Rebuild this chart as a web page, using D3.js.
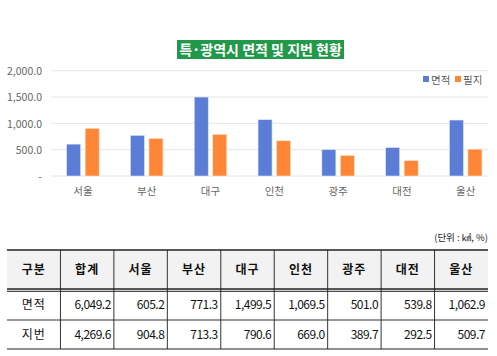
<!DOCTYPE html>
<meta charset="utf-8">
<style>
body { margin: 0; background: #fff; }
text { font-family: "Noto Sans CJK KR", "Noto Sans", sans-serif; }
.tick text { fill: #666; font-size: 10.5px; }
</style>
<svg width="497" height="356"></svg>
<script src="https://d3js.org/d3.v7.min.js"></script>
<script>
// chart data
var categories = ["서울", "부산", "대구", "인천", "광주", "대전", "울산"];
var areaVals = [605.2, 771.3, 1499.5, 1069.5, 501.0, 539.8, 1062.9];
var parcelVals = [904.8, 713.3, 790.6, 669.0, 389.7, 292.5, 509.7];
var seriesNames = ["면적", "필지"];
var yTicks = [0, 500, 1000, 1500, 2000];

// table data
var headers = ["구분", "합계"].concat(categories);
var rowNames = ["면적", "지번"];
var totals = [6049.2, 4269.6];

var blue = "#5b7dd6", orange = "#fe8636";

var svg = d3.select("svg");

// title box
var tg = svg.append("g");
tg.append("rect").attr("x", 177).attr("y", 40).attr("width", 167).attr("height", 19)
  .attr("fill", "#22984a");
tg.append("text").attr("x", 260.5).attr("y", 55).attr("text-anchor", "middle")
  .attr("fill", "#fff").style("font-size", "14px").style("font-weight", "bold")
  .text("특·광역시 면적 및 지번 현황");

var x = d3.scaleBand().domain(categories).range([51, 497.6]);
var y = d3.scaleLinear().domain([0, 2000]).range([176, 70.7]);

// gridlines
svg.append("g").selectAll("line").data(yTicks).join("line")
  .attr("x1", 51).attr("x2", 488)
  .attr("y1", d => y(d)).attr("y2", d => y(d))
  .attr("stroke", "#e6e6e6").attr("stroke-width", 1);

// y axis
var yAxis = svg.append("g").attr("transform", "translate(42,0)")
  .call(d3.axisLeft(y).tickValues(yTicks).tickSize(0).tickPadding(0)
    .tickFormat(d => d === 0 ? "-" : d3.format(",.1f")(d)));
yAxis.select(".domain").remove();
yAxis.selectAll("text").attr("dy", "0.35em");

// x axis labels
var xAxis = svg.append("g").attr("transform", "translate(0,186)")
  .call(d3.axisBottom(x).tickSize(0).tickPadding(0));
xAxis.select(".domain").remove();
xAxis.selectAll("text").attr("dy", "0.9em");

// bars
var bw = 14, gap = 4.5;
var bars = svg.append("g");
bars.selectAll(".a").data(areaVals).join("rect").attr("class", "a")
  .attr("x", (d, i) => x(categories[i]) + x.bandwidth() / 2 - gap / 2 - bw)
  .attr("y", d => y(d)).attr("width", bw).attr("height", d => y(0) - y(d))
  .attr("fill", blue).attr("stroke", "#dde4f7").attr("stroke-width", 0.6);
bars.selectAll(".p").data(parcelVals).join("rect").attr("class", "p")
  .attr("x", (d, i) => x(categories[i]) + x.bandwidth() / 2 + gap / 2)
  .attr("y", d => y(d)).attr("width", bw).attr("height", d => y(0) - y(d))
  .attr("fill", orange).attr("stroke", "#ffe3cf").attr("stroke-width", 0.6);

// legend
var lg = svg.append("g").attr("transform", "translate(423,80)");
[blue, orange].forEach(function(c, i) {
  lg.append("rect").attr("x", i * 32).attr("y", -4).attr("width", 6).attr("height", 6).attr("fill", c);
  lg.append("text").attr("x", i * 32 + 8).attr("y", 0).attr("dy", "0.35em")
    .attr("fill", "#595959").style("font-size", "10.5px").text(seriesNames[i]);
});

// unit note
svg.append("text").attr("x", 488).attr("y", 241).attr("text-anchor", "end")
  .attr("fill", "#222").style("font-size", "9.5px").text("(단위 : ㎢, %)");

// table
var tx = 7, tr = 488, colW = (tr - tx) / headers.length;
var rowY = [250, 290.5, 320, 349];
var tbl = svg.append("g");
tbl.append("rect").attr("x", tx).attr("y", rowY[0]).attr("width", tr - tx).attr("height", rowY[1] - rowY[0])
  .attr("fill", "#f2f2f2");
// vertical lines
tbl.selectAll(".v").data(d3.range(1, headers.length)).join("line").attr("class", "v")
  .attr("x1", i => tx + i * colW).attr("x2", i => tx + i * colW)
  .attr("y1", rowY[0]).attr("y2", rowY[3]).attr("stroke", "#333").attr("stroke-width", 1);
// horizontal lines
tbl.append("line").attr("x1", tx).attr("x2", tr).attr("y1", rowY[0]).attr("y2", rowY[0])
  .attr("stroke", "#222").attr("stroke-width", 1.5);
tbl.append("line").attr("x1", tx).attr("x2", tr).attr("y1", rowY[1] - 1.5).attr("y2", rowY[1] - 1.5)
  .attr("stroke", "#222").attr("stroke-width", 1.5);
tbl.append("line").attr("x1", tx).attr("x2", tr).attr("y1", rowY[1] + 0.8).attr("y2", rowY[1] + 0.8)
  .attr("stroke", "#222").attr("stroke-width", 1);
tbl.append("line").attr("x1", tx).attr("x2", tr).attr("y1", rowY[2]).attr("y2", rowY[2])
  .attr("stroke", "#333").attr("stroke-width", 1);
tbl.append("line").attr("x1", tx).attr("x2", tr).attr("y1", rowY[3]).attr("y2", rowY[3])
  .attr("stroke", "#222").attr("stroke-width", 1.2);

tbl.selectAll(".h").data(headers).join("text").attr("class", "h")
  .attr("x", (d, i) => tx + (i + 0.5) * colW).attr("y", (rowY[0] + rowY[1]) / 2).attr("dy", "0.35em")
  .attr("text-anchor", "middle").attr("fill", "#111").style("font-size", "12px")
  .style("font-weight", "bold").style("letter-spacing", "1px").text(d => d);

var fmt = d3.format(",.1f");
var rows = [[totals[0]].concat(areaVals), [totals[1]].concat(parcelVals)];
rows.forEach(function(r, ri) {
  var cy = (rowY[ri + 1] + rowY[ri + 2]) / 2;
  tbl.append("text").attr("x", tx + colW / 2).attr("y", cy).attr("dy", "0.35em")
    .attr("text-anchor", "middle").attr("fill", "#111").style("font-size", "12px")
    .style("letter-spacing", "1px").text(rowNames[ri]);
  tbl.selectAll(".r" + ri).data(r).join("text").attr("class", "r" + ri)
    .attr("x", (d, i) => tx + (i + 2) * colW - 3).attr("y", cy).attr("dy", "0.35em")
    .attr("text-anchor", "end").attr("fill", "#111").style("font-size", "12px")
    .style("letter-spacing", "-0.5px").text(d => fmt(d));
});
</script>
